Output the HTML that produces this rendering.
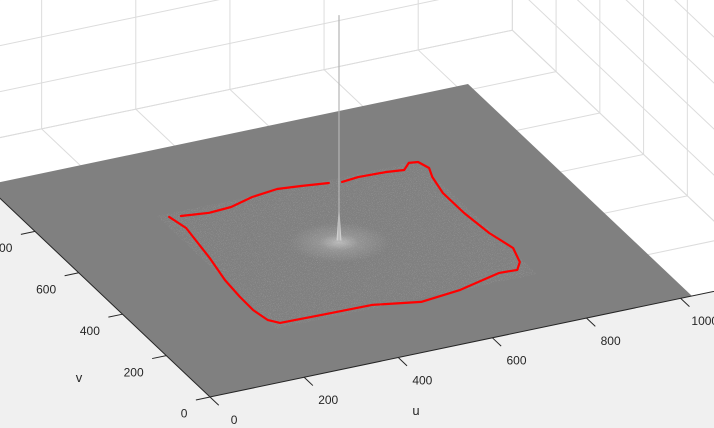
<!DOCTYPE html>
<html><head><meta charset="utf-8"><style>
html,body{margin:0;padding:0;background:#fff;}
svg{display:block;font-family:"Liberation Sans",Arial,sans-serif;}
</style></head><body>
<svg id="chart" width="714" height="428" viewBox="0 0 714 428" xmlns="http://www.w3.org/2000/svg">
<defs>
<filter id="noise" x="0" y="0" width="100%" height="100%">
<feTurbulence type="fractalNoise" baseFrequency="1.2" numOctaves="2" seed="3" result="t"/>
<feColorMatrix in="t" type="matrix" values="0 0 0 0 1  0 0 0 0 1  0 0 0 0 1  0 0 0 1.8 -0.95"/>
<feComposite in2="SourceGraphic" operator="in"/>
</filter>
<radialGradient id="glow" cx="0.5" cy="0.5" r="0.5">
<stop offset="0" stop-color="#fff" stop-opacity="0.45"/>
<stop offset="0.4" stop-color="#fff" stop-opacity="0.15"/>
<stop offset="1" stop-color="#fff" stop-opacity="0"/>
</radialGradient>
</defs>
<g id="layer"></g>
</svg>
<script>
// ---- data ----
const uTicks = [0, 200, 400, 600, 800, 1000];
const vTicks = [0, 200, 400, 600, 800];
const gridVals = [0, 200, 400, 600, 800, 1000, 1200];
const zGrid = [1, 2, 3, 4, 5, 6, 7, 8];
const axisMax = 1200;
const planeMax = 1024;
const peakUV = [512, 512];
const peakHeight = 4.9;
const contourAU = [260,269,255,241,236,235,242,258,346,451,542,632,731,768,787,801,787,780,780,791,802,794,776,755,720,662,625];
const contourAV = [746,688,550,450,371,308,256,235,232,230,201,216,251,248,277,338,417,517,614,686,724,757,761,737,744,747,741];
const contourBU = [600,546,499,441,386,337,282];
const contourBV = [748,759,767,756,734,729,740];

// ---- projection ----
const O = [210, 397];
const EU = [482/1024, -101/1024];
const EV = [-224/1024, -212/1024];
const ZPX = 46;
function P(u, v, z) {
  z = z || 0;
  return [O[0] + u*EU[0] + v*EV[0], O[1] + u*EU[1] + v*EV[1] - z*ZPX];
}
const NS = "http://www.w3.org/2000/svg";
const layer = document.getElementById('layer');
function el(tag, attrs, parent) {
  const e = document.createElementNS(NS, tag);
  for (const k in attrs) e.setAttribute(k, attrs[k]);
  (parent || layer).appendChild(e);
  return e;
}
function pts(a){return a.map(p=>p[0].toFixed(1)+','+p[1].toFixed(1)).join(' ');}

// grid
const grid = el('g', {stroke:'#dcdcdc','stroke-width':1,fill:'none'});


gridVals.forEach(u => {
  const a = P(u, axisMax);
  const l = el('line', {x1:a[0],y1:a[1],x2:a[0],y2:-10}, grid);
  
  
  const b = P(u, 0);
  const f = el('line', {x1:a[0],y1:a[1],x2:b[0],y2:b[1]}, grid);
  
  
});
gridVals.forEach(v => {
  const a = P(axisMax, v);
  const l = el('line', {x1:a[0],y1:a[1],x2:a[0],y2:-10}, grid);
  
  
  const b = P(0, v);
  const f = el('line', {x1:a[0],y1:a[1],x2:b[0],y2:b[1]}, grid);
  
  
});
[0].concat(zGrid).forEach(z => {
  const a = P(-200, axisMax, z), cc = P(axisMax, axisMax, z), d = P(axisMax, -200, z);
  const l = el('polyline', {points: pts([a, cc, d])}, grid);
  
  
});

// figure background outside axes
const bg = el('polygon', {points: pts([P(0, axisMax), P(0,0), P(axisMax,0), [800,440], [-60,440]]), fill:'#f0f0f0'});



// plane
const plane = el('polygon', {points: pts([P(0,0), P(planeMax,0), P(planeMax,planeMax), P(0,planeMax)]), fill:'#808080'});



// noisy region
const regionPts = [P(240,215), P(795,215), P(795,760), P(240,760)];
const region = el('polygon', {points: pts(regionPts), fill:'#8a8a8a', filter:'url(#noise)', opacity:0.35});


const peakBase = P(peakUV[0], peakUV[1]);
const glow = el('ellipse', {cx:peakBase[0], cy:peakBase[1]+2, rx:50, ry:20, fill:'url(#glow)'});



// spike
const peakTop = P(peakUV[0], peakUV[1], peakHeight);
const peakMid = P(peakUV[0], peakUV[1], 0.8);
const spike = el('polygon', {points: pts([[peakBase[0]-2.5,peakBase[1]], [peakMid[0],peakMid[1]], [peakBase[0]+2.5,peakBase[1]]]), fill:'#cfcfcf'});


const spikeLine = el('line', {x1:peakBase[0], y1:peakBase[1], x2:peakTop[0], y2:peakTop[1], stroke:'#b4b4b4','stroke-width':1.2});



// red contour
function contour(us, vs, name) {
  const p = us.map((u,i) => P(u, vs[i]));
  const e = el('polyline', {points: pts(p), fill:'none', stroke:'#ff0000','stroke-width':2.2,'stroke-linejoin':'round','stroke-linecap':'round'});
  
  
}
contour(contourAU, contourAV, 'red-contour-main');
contour(contourBU, contourBV, 'red-contour-top');

// axes lines
const ax = el('polyline', {points: pts([P(0, axisMax), P(0,0), P(axisMax,0)]), fill:'none', stroke:'#262626','stroke-width':1});



// u ticks
uTicks.forEach(u => {
  const a = P(u, 0), b = P(u, -40);
  const t = el('line', {x1:a[0],y1:a[1],x2:b[0],y2:b[1],stroke:'#262626'});
  
  
  const lp = P(u, -110);
  const tx = el('text', {x:lp[0], y:lp[1]+4, 'font-size':12, fill:'#262626','text-anchor':'middle'});
  tx.textContent = u;
  
  
});
// v ticks
vTicks.forEach(v => {
  const a = P(0, v), b = P(-30, v);
  const t = el('line', {x1:a[0],y1:a[1],x2:b[0],y2:b[1],stroke:'#262626'});
  
  
  const lp = P(-48, v);
  const tx = el('text', {x:lp[0], y:lp[1]+16, 'font-size':12, fill:'#262626','text-anchor':'end'});
  tx.textContent = v;
  
  
});
const ul = el('text', {x:416, y:415, 'font-size':13, fill:'#262626','text-anchor':'middle'});
ul.textContent = 'u';


const vl = el('text', {x:79, y:382, 'font-size':13, fill:'#262626','text-anchor':'middle'});
vl.textContent = 'v';


</script>
</body></html>
